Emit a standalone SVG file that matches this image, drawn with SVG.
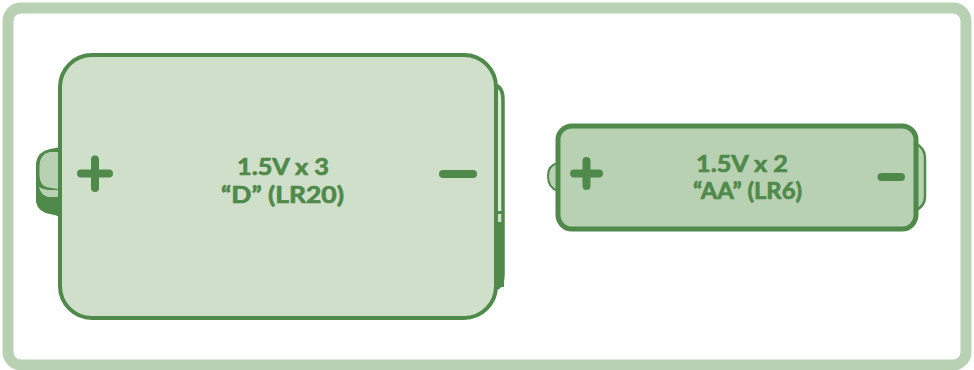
<svg xmlns="http://www.w3.org/2000/svg" width="974" height="370" viewBox="0 0 974 370">
<style>
.d{fill:#4f8a4b}
.l{fill:#d0dfca}
.m{fill:#b9d1b3}
.s{stroke:#4f8a4b;stroke-linejoin:round}
.t{font-family:"Lato","Open Sans","Liberation Sans",sans-serif;font-weight:700;font-size:23.500px;fill:#4f8a4b;text-anchor:middle;stroke:#4f8a4b;stroke-width:.7}
.p{fill:none;stroke:#4f8a4b;stroke-linecap:round}
</style>
<rect width="974" height="370" fill="#fff"/>
<rect id="frame" x="8" y="8" width="958" height="357" rx="13" fill="#fff" stroke="#b9d1b3" stroke-width="11"/>
<g id="battery-d">
<path class="d" d="M60 147 Q56 148 50 149 Q38 151 36 163 V202 Q38 212 50 214 Q56 215 60 217Z"/>
<path class="m" d="M58 152 H50 Q40 154 39.500 165 V176 Q40 186 48 187.500 L58 189Z"/>
<path class="m" d="M39 187 Q42 189 48 190 H58 V197 H48 Q41 195 39 187Z"/>
<path d="M495 85 Q503 87 503 100 V275 Q503 287 495 289Z" fill="#dfe9da" class="s" stroke-width="3.500"/>
<rect class="d" x="496" y="222" width="8" height="65"/>
<rect class="d" x="496" y="211" width="8" height="3"/>
<rect class="l" x="496" y="214" width="5" height="8"/>
<rect x="60" y="55" width="436" height="263" rx="32" class="l s" stroke-width="4"/>
<path class="p" stroke-width="8" d="M81 173.500 H109 M95 159.500 V188"/>
<path class="p" stroke-width="8" d="M443 174 H473"/>
<text class="t" x="283" y="175" textLength="92" lengthAdjust="spacingAndGlyphs">1.5V x 3</text>
<text class="t" x="282.500" y="203" textLength="123" lengthAdjust="spacingAndGlyphs">“D” (LR20)</text>
</g>
<g id="battery-aa">
<path d="M558 163 Q548 165 548 176 Q548 188 558 191Z" class="m s" stroke-width="2"/>
<path d="M915 143 Q925 148 925 158 V197 Q925 206 915 211Z" class="m s" stroke-width="2.500"/>
<rect x="558" y="126" width="358" height="103" rx="14" class="m s" stroke-width="5"/>
<path class="p" stroke-width="8" d="M574 173.500 H599 M586.500 161 V186"/>
<path class="p" stroke-width="8" d="M881.500 177 H901"/>
<text class="t" x="742" y="172" textLength="92" lengthAdjust="spacingAndGlyphs">1.5V x 2</text>
<text class="t" x="747.500" y="199" textLength="109" lengthAdjust="spacingAndGlyphs">“AA” (LR6)</text>
</g>
<g id="connectors"/>
</svg>
